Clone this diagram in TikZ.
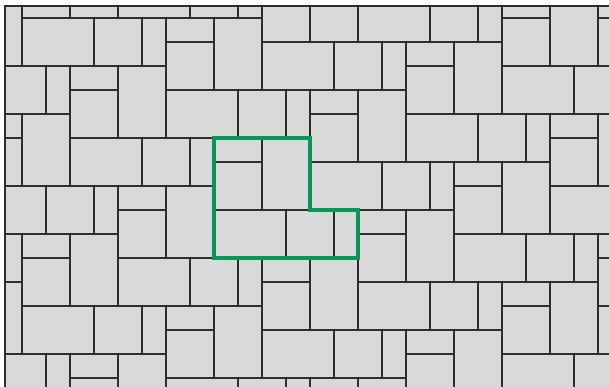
\documentclass[tikz,border=0pt]{standalone}
\usepackage{tikz}
\usetikzlibrary{positioning, calc}

\definecolor{tilefill}{RGB}{217,217,217}
\definecolor{tileline}{RGB}{45,45,45}
\definecolor{markgreen}{RGB}{0,152,84}

\tikzset{
    tile/.style={draw=tileline, line width=1pt},
    outline/.style={draw=markgreen, line width=3.3pt, line join=miter}
}

\begin{document}
\begin{tikzpicture}[x=0.6cm, y=0.6cm]
    \useasboundingbox (-0.9167,-15.375) rectangle (24.4583,0.75);

    % Frame
    \coordinate (tl) at (-0.7083,0.5);
    \coordinate (tr) at (24.6,0.5);
    \coordinate (bl) at (-0.7083,-15.5);
    \coordinate (br) at (24.6,-15.5);

    \begin{scope}
        \clip (bl) rectangle (tr);
        \fill[tilefill] (bl) rectangle (tr);
        % Pattern: six stones repeated on the lattice (2,-5), (4,2)
        \foreach \a in {-5,...,5}{
            \foreach \b in {-6,...,8}{
                \begin{scope}[shift={({8+2*\a+4*\b},{-5-5*\a+2*\b})}]
                    \draw[tile] (0,0) rectangle (2,-1);
                    \draw[tile] (0,-1) rectangle (2,-3);
                    \draw[tile] (2,0) rectangle (4,-3);
                    \draw[tile] (0,-3) rectangle (3,-5);
                    \draw[tile] (3,-3) rectangle (5,-5);
                    \draw[tile] (5,-3) rectangle (6,-5);
                \end{scope}
            }
        }
    \end{scope}
    \draw[tile] (bl) -- (tl) -- (tr);

    % Repeat unit
    \coordinate (u1) at (8,-5);
    \coordinate (u2) at (12,-5);
    \coordinate (u3) at (12,-8);
    \coordinate (u4) at (14,-8);
    \coordinate (u5) at (14,-10);
    \coordinate (u6) at (8,-10);
    \draw[outline] (u1) -- (u2) -- (u3) -- (u4) -- (u5) -- (u6) -- cycle;
\end{tikzpicture}
\end{document}
